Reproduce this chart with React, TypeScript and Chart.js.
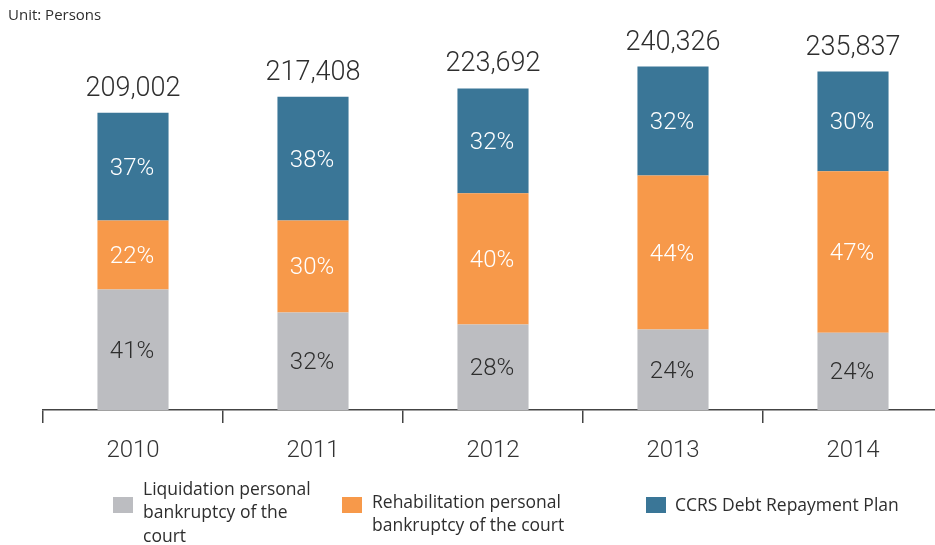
import React, { useEffect, useRef } from "react";
import { Chart, registerables } from "chart.js";

Chart.register(...registerables);

// Categories
const years = ["2010", "2011", "2012", "2013", "2014"];
// Totals shown above each bar
const totalLabels = ["209,002", "217,408", "223,692", "240,326", "235,837"];
// Segment values (persons)
const liquidation = [84100, 68100, 59700, 56200, 53900];
const rehabilitation = [48200, 64200, 91700, 107500, 112800];
const ccrs = [75200, 86400, 73100, 76100, 69600];
// Share labels shown inside segments
const liquidationPct = ["41%", "32%", "28%", "24%", "24%"];
const rehabilitationPct = ["22%", "30%", "40%", "44%", "47%"];
const ccrsPct = ["37%", "38%", "32%", "32%", "30%"];
// Series names
const seriesNames = [
  "Liquidation personal bankruptcy of the court",
  "Rehabilitation personal bankruptcy of the court",
  "CCRS Debt Repayment Plan",
];

const GRAY = "#bcbdc1";
const ORANGE = "#f7994a";
const BLUE = "#3a7697";
const TEXT = "#2e2e2e";

const labelPlugin = {
  id: "barLabels",
  afterDatasetsDraw(chart: any) {
    const ctx = chart.ctx;
    ctx.save();
    const pcts = [liquidationPct, rehabilitationPct, ccrsPct];
    const colors = [TEXT, "#ffffff", "#ffffff"];
    ctx.textAlign = "center";
    chart.data.datasets.forEach((_ds: any, di: number) => {
      const meta = chart.getDatasetMeta(di);
      meta.data.forEach((bar: any, i: number) => {
        const p = bar.getProps(["x", "y", "base"], true);
        ctx.font = "300 24px Roboto";
        ctx.fillStyle = colors[di];
        ctx.textBaseline = "middle";
        ctx.fillText(pcts[di][i], p.x - 1, (p.y + p.base) / 2 + 2);
      });
    });
    const topMeta = chart.getDatasetMeta(chart.data.datasets.length - 1);
    topMeta.data.forEach((bar: any, i: number) => {
      const p = bar.getProps(["x", "y"], true);
      ctx.font = "300 27px Roboto";
      ctx.fillStyle = TEXT;
      ctx.textBaseline = "alphabetic";
      ctx.fillText(totalLabels[i], p.x, p.y - 17);
    });
    ctx.restore();
  },
};

export default function App() {
  const canvasRef = useRef<HTMLCanvasElement | null>(null);

  useEffect(() => {
    let chart: Chart | null = null;
    let cancelled = false;
    const make = () => {
      if (cancelled || !canvasRef.current) return;
      chart = new Chart(canvasRef.current, {
        type: "bar",
        data: {
          labels: years,
          datasets: [
            { label: seriesNames[0], data: liquidation, backgroundColor: GRAY },
            { label: seriesNames[1], data: rehabilitation, backgroundColor: ORANGE },
            { label: seriesNames[2], data: ccrs, backgroundColor: BLUE },
          ],
        },
        options: {
          responsive: false,
          animation: false,
          devicePixelRatio: 1,
          layout: { padding: { top: 9, left: 43, right: 0, bottom: 0 } },
          datasets: { bar: { categoryPercentage: 1, barPercentage: 0.395 } },
          plugins: { legend: { display: false }, tooltip: { enabled: false } },
          scales: {
            x: {
              stacked: true,
              offset: true,
              grid: {
                display: true,
                drawOnChartArea: false,
                drawTicks: true,
                tickLength: 13,
                color: "#444444",
                lineWidth: 1.5,
                offset: true,
              },
              border: { display: true, color: "#444444", width: 1.5 },
              ticks: {
                color: "#333333",
                font: { family: "Roboto", size: 24, weight: "300" },
                padding: 14,
              },
              afterFit: (s: any) => {
                s.height = 135;
              },
            },
            y: { stacked: true, display: false, min: 0, max: 280000 },
          },
        },
        plugins: [labelPlugin],
      });
    };
    const fontsReady = (document as any).fonts
      ? Promise.all([
          (document as any).fonts.load("300 24px Roboto"),
          (document as any).fonts.load("24px Roboto"),
          (document as any).fonts.load("16px 'Open Sans'"),
        ]).catch(() => null)
      : Promise.resolve(null);
    fontsReady.then(make);
    return () => {
      cancelled = true;
      if (chart) chart.destroy();
    };
  }, []);

  const legendText: React.CSSProperties = {
    position: "absolute",
    fontFamily: "'Open Sans', sans-serif",
    fontSize: 17.5,
    lineHeight: "23.5px",
    color: "#2e2e2e",
    whiteSpace: "nowrap",
  };
  const box = (left: number, color: string): React.CSSProperties => ({
    position: "absolute",
    left,
    top: 497,
    width: 20,
    height: 16,
    background: color,
  });

  return (
    <div
      style={{
        position: "absolute",
        left: 0,
        top: 0,
        width: 935,
        height: 545,
        overflow: "hidden",
        background: "#ffffff",
      }}
    >
      <canvas
        ref={canvasRef}
        width={943}
        height={545}
        style={{ position: "absolute", left: 0, top: 0, width: 943, height: 545 }}
      />
      <div
        style={{
          position: "absolute",
          left: 8,
          top: 4,
          fontFamily: "'Open Sans', sans-serif",
          fontSize: 15,
          lineHeight: "20px",
          color: "#2e2e2e",
        }}
      >
        Unit: Persons
      </div>
      <div style={box(113, GRAY)} />
      <div style={{ ...legendText, left: 143, top: 476.5 }}>
        Liquidation personal
        <br />
        bankruptcy of the
        <br />
        court
      </div>
      <div style={box(342, ORANGE)} />
      <div style={{ ...legendText, left: 372, top: 489.5 }}>
        Rehabilitation personal
        <br />
        bankruptcy of the court
      </div>
      <div style={box(646, BLUE)} />
      <div style={{ ...legendText, left: 675, top: 493 }}>CCRS Debt Repayment Plan</div>
    </div>
  );
}
